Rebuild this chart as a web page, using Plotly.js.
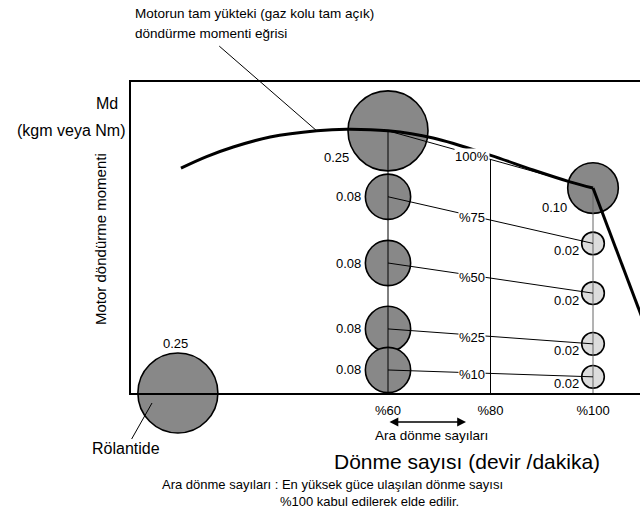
<!DOCTYPE html>
<html><head><meta charset="utf-8">
<script src="https://cdn.plot.ly/plotly-3.0.1.min.js"></script>
<style>html,body{margin:0;padding:0;overflow:hidden;background:#fff}#chart{width:680px;height:514px}</style>
</head><body><div id="chart"></div><script>
// ---- data (speed in % of max-power rpm, torque in relative units 0..100) ----
const curveSpeed  = [19.6, 24.6, 29.8, 37.0, 46.1, 51.9, 60.0, 68.8, 79.9, 88.3, 95.5, 100];
const curveTorque = [72.3, 76.0, 79.1, 82.3, 84.3, 84.8, 84.3, 82.0, 76.5, 71.7, 67.9, 65.9];
const dropSpeed   = [100, 111];
const dropTorque  = [65.9, 18.0];

const loadLabels   = ['100%', '%75', '%50', '%25', '%10'];
const torqueAt60   = [84.3, 63.1, 41.8, 20.6, 7.4];
const bubbleAt60   = [0.25, 0.08, 0.08, 0.08, 0.08];
const torqueAt100  = [65.9, 48.1, 32.1, 15.8, 5.2];
const bubbleAt100  = [0.10, 0.02, 0.02, 0.02, 0.02];
const idleSpeed = [19.0], idleTorque = [0], idleBubble = [0.25];

const speedTicks    = [60, 80, 100];
const speedTickText = ['%60', '%80', '%100'];

// ---- layout helpers ----
const FONT = 'Liberation Sans, Arial, sans-serif';
const L = 131, T = 82, W = 680, H = 514, PB = 393;
const P = (px, py) => ({x: (px - L) / (W - L), y: (PB - py) / (PB - T)});
const fmt = v => v.toFixed(2);

const dark = '#888888', light = '#dcdcdc';
const bx = [], by = [], bs = [], bc = [];
idleSpeed.forEach((s, i) => { bx.push(s); by.push(idleTorque[i]); bs.push(idleBubble[i]); bc.push(dark); });
bubbleAt60.forEach((v, i) => { bx.push(60); by.push(torqueAt60[i]); bs.push(v); bc.push(dark); });
bubbleAt100.forEach((v, i) => { bx.push(100); by.push(torqueAt100[i]); bs.push(v); bc.push(v >= 0.05 ? dark : light); });

const traces = [];
traces.push({x: bx, y: by, mode: 'markers', type: 'scatter', cliponaxis: false, hoverinfo: 'skip',
  marker: {size: bs, sizemode: 'area', sizeref: 1 / 12800, opacity: 1, color: bc, line: {color: '#000', width: 1.6}}});

// verticals
const top80 = torqueAt60[0] + (80 - 60) / 40 * (torqueAt100[0] - torqueAt60[0]);
traces.push({x: [60, 60], y: [0, torqueAt60[0]], mode: 'lines', line: {color: '#000', width: 1}, hoverinfo: 'skip'});
traces.push({x: [80, 80], y: [0, top80], mode: 'lines', line: {color: '#000', width: 1}, hoverinfo: 'skip'});
traces.push({x: [100, 100], y: [0, torqueAt100[0]], mode: 'lines', line: {color: '#666', width: 1}, hoverinfo: 'skip'});
// load leader lines
loadLabels.forEach((lab, i) => {
  traces.push({x: [60, 100], y: [torqueAt60[i], torqueAt100[i]], mode: 'lines', line: {color: '#000', width: 1}, hoverinfo: 'skip'});
});
// full-load torque curve
traces.push({x: curveSpeed, y: curveTorque, mode: 'lines', line: {color: '#000', width: 3, shape: 'spline', smoothing: 1}, hoverinfo: 'skip'});
traces.push({x: dropSpeed, y: dropTorque, mode: 'lines', line: {color: '#000', width: 3}, hoverinfo: 'skip'});

const ann = [];
const txt = (text, px, py, size, opts) => Object.assign({xref: 'paper', yref: 'paper', ...P(px, py), text, showarrow: false,
  font: {family: FONT, size, color: '#000'}, xanchor: 'center', yanchor: 'middle'}, opts || {});

// load labels on leader lines
const labX = 76.4;
loadLabels.forEach((lab, i) => {
  const y = torqueAt60[i] + (labX - 60) / 40 * (torqueAt100[i] - torqueAt60[i]);
  ann.push({x: labX, y, xref: 'x', yref: 'y', text: lab, showarrow: false, bgcolor: '#fff', borderpad: 0,
    yshift: -2, font: {family: FONT, size: 13, color: '#000'}});
});
// bubble value labels
bubbleAt60.forEach((v, i) => {
  if (i === 0) ann.push({x: 60, y: torqueAt60[i], xref: 'x', yref: 'y', text: fmt(v), showarrow: false,
    xshift: -52, yshift: -27, font: {family: FONT, size: 13, color: '#000'}});
  else ann.push({x: 60, y: torqueAt60[i], xref: 'x', yref: 'y', text: fmt(v), showarrow: false, xanchor: 'right',
    xshift: -25, font: {family: FONT, size: 13, color: '#000'}});
});
bubbleAt100.forEach((v, i) => {
  const big = v >= 0.05;
  ann.push({x: 100, y: torqueAt100[i], xref: 'x', yref: 'y', text: fmt(v), showarrow: false,
    xshift: big ? -39 : -27, yshift: big ? -19 : -7, font: {family: FONT, size: 13, color: '#000'}});
});
ann.push({x: idleSpeed[0], y: idleTorque[0], xref: 'x', yref: 'y', text: fmt(idleBubble[0]), showarrow: false,
  xshift: -2, yshift: 50, font: {family: FONT, size: 13, color: '#000'}});

// titles and notes
ann.push(txt('Motorun tam yükteki (gaz kolu tam açık)', 133, 14, 13.5, {xanchor: 'left'}));
ann.push(txt('döndürme momenti eğrisi', 133, 33, 13.5, {xanchor: 'left'}));
ann.push({x: 46.1, y: 84.3, xref: 'x', yref: 'y', text: '', showarrow: true, arrowhead: 0, arrowwidth: 1,
  arrowcolor: '#000', ax: -99, ay: -86, standoff: 0});
ann.push(txt('Md', 107, 103, 16));
ann.push(txt('(kgm veya Nm)', 127, 130, 16, {xanchor: 'right'}));
ann.push(txt('Motor döndürme momenti', 100, 239, 15, {textangle: -90}));
ann.push(Object.assign(txt('Rölantide', 152, 403, 16), {showarrow: true, arrowhead: 0, arrowwidth: 1,
  arrowcolor: '#000', ax: -26, ay: 46, standoff: 0}));
ann.push(Object.assign(txt('', 466, 422, 12), {showarrow: true, arrowhead: 2, arrowside: 'end+start',
  arrowsize: 1.1, arrowwidth: 1.6, arrowcolor: '#000', ax: -78, ay: 0, standoff: 0, startstandoff: 0}));
ann.push(txt('Ara dönme sayıları', 431, 435, 13.5));
ann.push(txt('Dönme sayısı (devir /dakika)', 467, 461, 21));
ann.push(txt('Ara dönme sayıları : En yüksek güce ulaşılan dönme sayısı', 332, 484, 13));
ann.push(txt('%100 kabul edilerek elde edilir.', 369, 501, 13));

const layout = {
  width: W, height: H, margin: {l: L, r: 0, t: T, b: H - PB},
  paper_bgcolor: '#fff', plot_bgcolor: '#fff', showlegend: false,
  xaxis: {range: [(L - 80.5) / 5.125, (W - 80.5) / 5.125], showline: true, linewidth: 2, linecolor: '#000', mirror: true,
    showgrid: false, zeroline: false, ticks: '', tickvals: speedTicks, ticktext: speedTickText, ticklabelstandoff: 4,
    tickfont: {family: FONT, size: 13, color: '#000'}},
  yaxis: {range: [0, 100], showline: true, linewidth: 2, linecolor: '#000', mirror: true,
    showgrid: false, zeroline: false, ticks: '', showticklabels: false},
  annotations: ann
};
Plotly.newPlot('chart', traces, layout, {staticPlot: true, displayModeBar: false});
</script></body></html>
